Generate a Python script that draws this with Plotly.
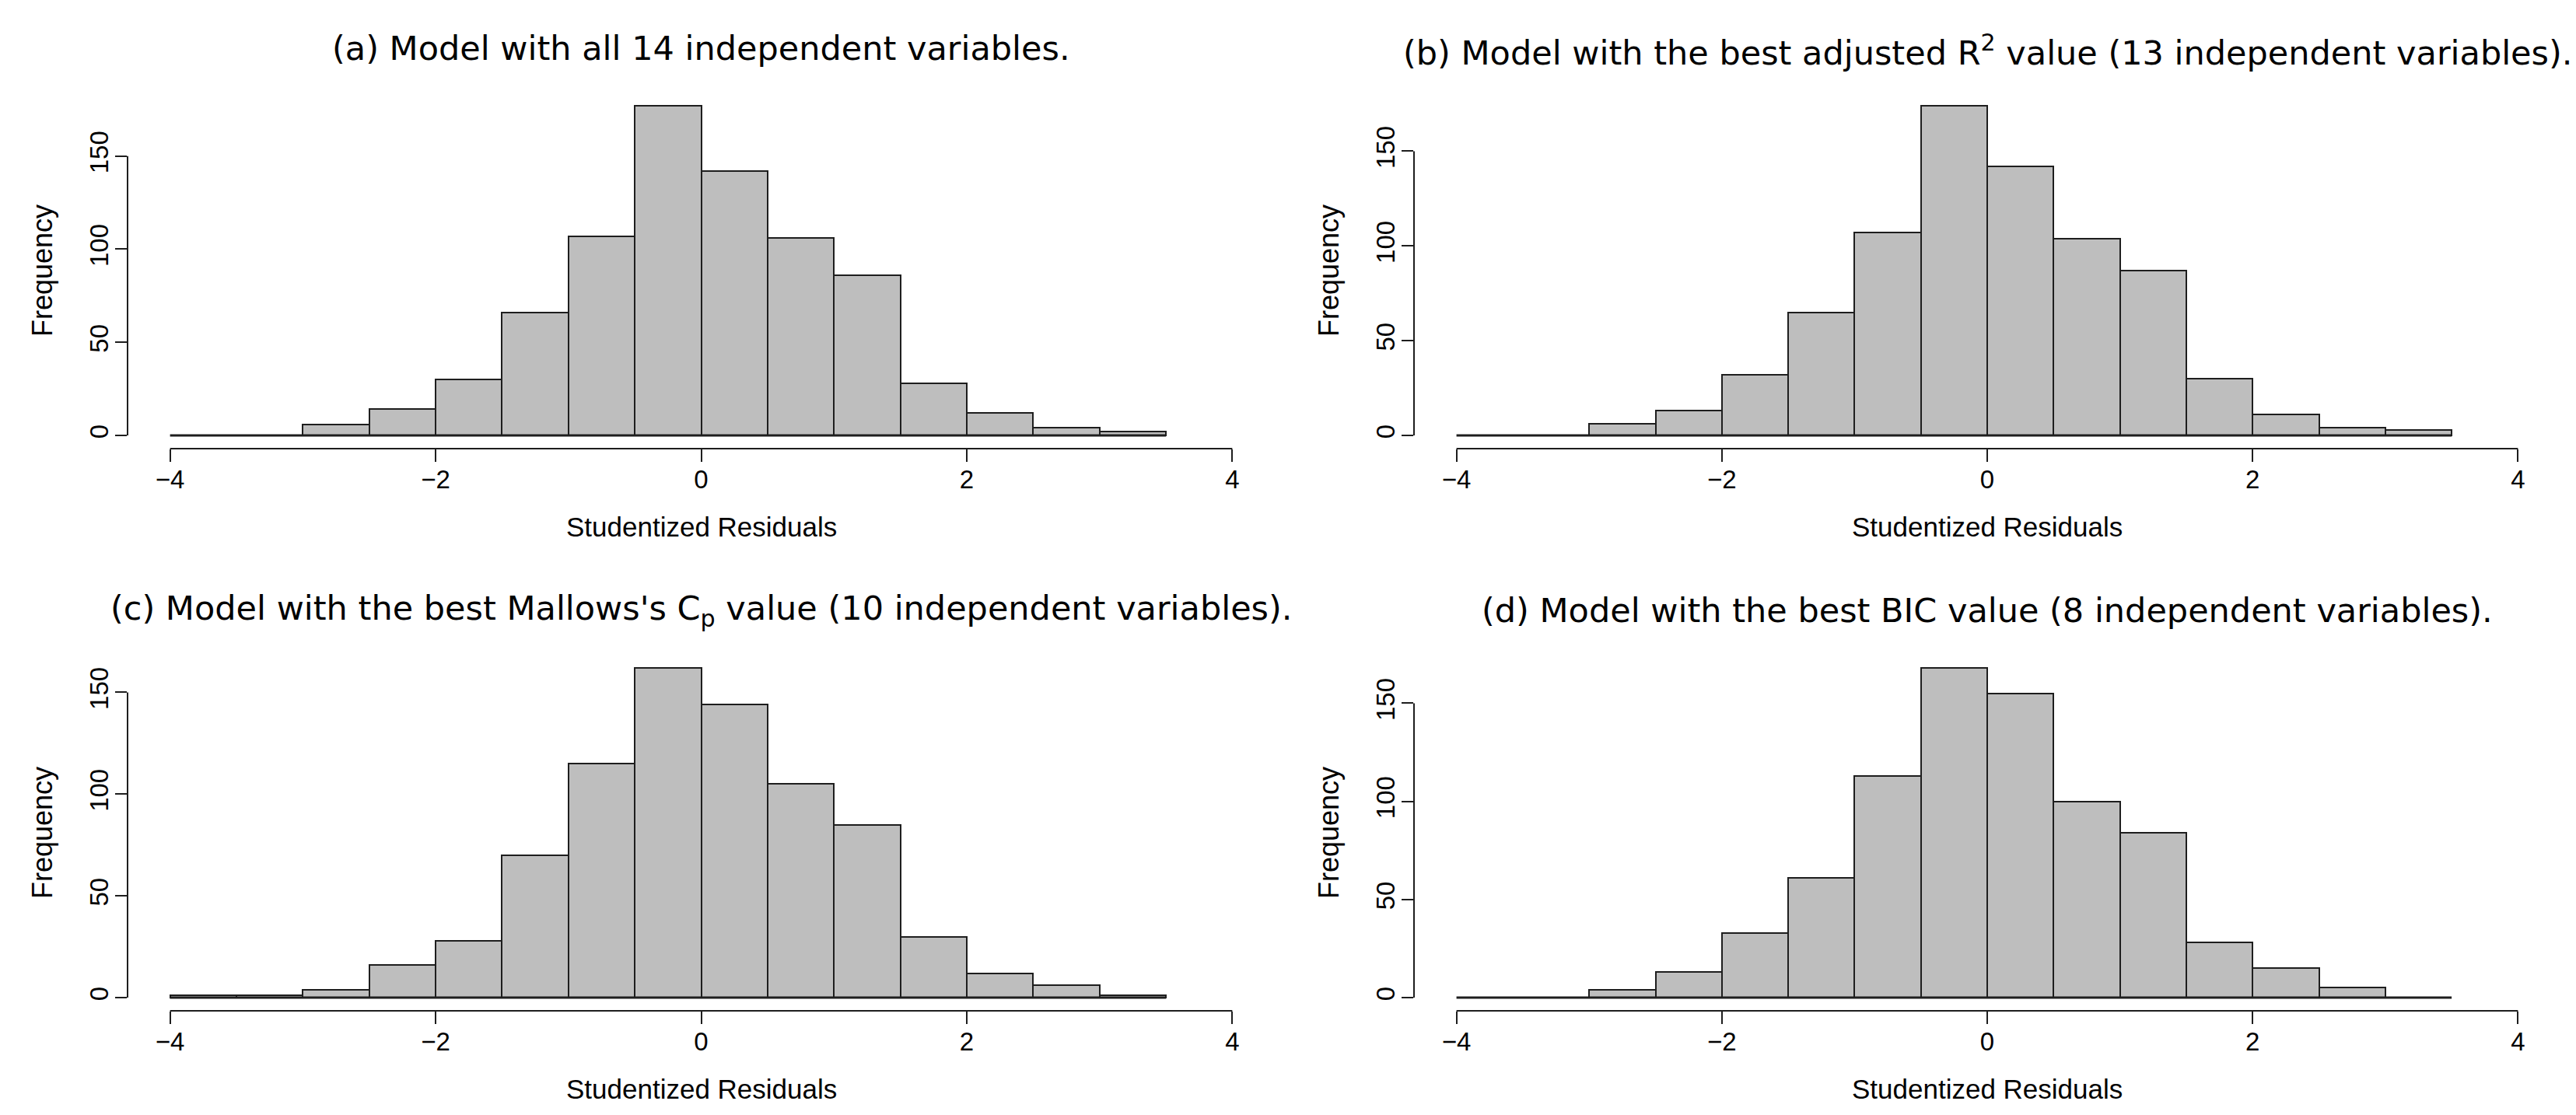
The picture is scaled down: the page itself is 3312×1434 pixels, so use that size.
import plotly.graph_objects as go

# ---------------- data ----------------
BREAKS = [-4.0, -3.5, -3.0, -2.5, -2.0, -1.5, -1.0, -0.5, 0.0, 0.5, 1.0, 1.5, 2.0, 2.5, 3.0, 3.5]
COUNTS_A = [0, 0, 6, 14, 30, 66, 107, 177, 142, 106, 86, 28, 12, 4, 2]
COUNTS_B = [0, 0, 6, 13, 32, 65, 107, 174, 142, 104, 87, 30, 11, 4, 3]
COUNTS_C = [1, 1, 4, 16, 28, 70, 115, 162, 144, 105, 85, 30, 12, 6, 1]
COUNTS_D = [0, 0, 4, 13, 33, 61, 113, 168, 155, 100, 84, 28, 15, 5, 0]

TITLES = [
    "(a) Model with all 14 independent variables.",
    "(b) Model with the best adjusted R<sup>2</sup> value (13 independent variables).",
    "(c) Model with the best Mallows's C<sub>p</sub> value (10 independent variables).",
    "(d) Model with the best BIC value (8 independent variables).",
]
X_TICKS = [-4, -2, 0, 2, 4]
X_TICK_LABELS = ["\u22124", "\u22122", "0", "2", "4"]
Y_TICKS = [0, 50, 100, 150]
Y_TICK_LABELS = ["0", "50", "100", "150"]
X_LABEL = "Studentized Residuals"
Y_LABEL = "Frequency"

# ---------------- layout constants ----------------
W, H = 3312, 1434
FILL = "#BEBEBE"
INK = "#1e1e1e"
TITLE_FONT = dict(family="DejaVu Sans", size=43, color="black")
LABEL_FONT = dict(family="Liberation Sans, Arial", size=35, color="black")
TICK_FONT = dict(family="Liberation Sans, Arial", size=33, color="black")

# plot regions in pixels (left, right, top, bottom)
PANELS = [
    (156, 1631, 111, 569),
    (1810, 3284, 111, 569),
    (156, 1631, 834, 1292),
    (1810, 3284, 834, 1292),
]
# title placement: (anchor, y px)
TITLE_POS = [("top", 27), ("bottom", 87), ("top", 747), ("top", 750)]


def px_x(p):
    return p / W


def px_y(p):
    return 1 - p / H


fig = go.Figure()
shapes = []
annotations = []
counts_all = [COUNTS_A, COUNTS_B, COUNTS_C, COUNTS_D]
centers = [(BREAKS[i] + BREAKS[i + 1]) / 2 for i in range(len(BREAKS) - 1)]
widths = [BREAKS[i + 1] - BREAKS[i] for i in range(len(BREAKS) - 1)]
xpad = 0.04 * (X_TICKS[-1] - X_TICKS[0])

for k, counts in enumerate(counts_all):
    n = "" if k == 0 else str(k + 1)
    xa, ya = "x" + n, "y" + n
    left, right, top, bottom = PANELS[k]

    fig.add_trace(go.Bar(
        x=centers, y=counts, width=widths,
        marker=dict(color=FILL, line=dict(color=INK, width=2)),
        xaxis=xa, yaxis=ya, showlegend=False, hoverinfo="x+y",
    ))
    fig.add_trace(go.Scatter(
        x=[BREAKS[0], BREAKS[-1]], y=[0, 0], mode="lines",
        line=dict(color=INK, width=3), xaxis=xa, yaxis=ya,
        showlegend=False, hoverinfo="skip",
    ))

    ymax = max(counts)
    fig.layout["xaxis" + n] = dict(
        domain=[px_x(left), px_x(right)], anchor=ya,
        range=[X_TICKS[0] - xpad, X_TICKS[-1] + xpad],
        tickmode="array", tickvals=X_TICKS, ticktext=X_TICK_LABELS,
        ticks="outside", ticklen=16, tickwidth=2, tickcolor=INK,
        showline=False, showgrid=False, zeroline=False,
        tickfont=TICK_FONT, ticklabelstandoff=-6, fixedrange=True,
    )
    fig.layout["yaxis" + n] = dict(
        domain=[px_y(bottom), px_y(top)], anchor=xa,
        range=[-0.04 * ymax, 1.04 * ymax],
        tickmode="array", tickvals=Y_TICKS, ticktext=Y_TICK_LABELS,
        ticks="outside", ticklen=15, tickwidth=2, tickcolor=INK,
        tickangle=-90,
        showline=False, showgrid=False, zeroline=False,
        tickfont=TICK_FONT, ticklabelstandoff=-4, fixedrange=True,
    )

    # R-style axis lines spanning first..last tick
    shapes.append(dict(type="line", xref=xa, yref=ya + " domain",
                       x0=X_TICKS[0], x1=X_TICKS[-1], y0=0, y1=0,
                       line=dict(color=INK, width=2)))
    shapes.append(dict(type="line", xref=xa + " domain", yref=ya,
                       x0=0, x1=0, y0=Y_TICKS[0], y1=Y_TICKS[-1],
                       line=dict(color=INK, width=2)))

    # main title
    anch, ty = TITLE_POS[k]
    annotations.append(dict(text=TITLES[k], xref=xa + " domain", x=0.5,
                            yref="paper", y=px_y(ty), xanchor="center",
                            yanchor=anch, showarrow=False, font=TITLE_FONT))
    # x label
    annotations.append(dict(text=X_LABEL, xref=xa + " domain", x=0.5,
                            yref="paper", y=px_y(bottom + 79), xanchor="center",
                            yanchor="top", showarrow=False, font=LABEL_FONT))
    # y label
    annotations.append(dict(text=Y_LABEL, xref="paper", x=px_x(left - 110),
                            yref=ya + " domain", y=0.5, xanchor="center",
                            yanchor="middle", textangle=-90, showarrow=False,
                            font=dict(family="Liberation Sans, Arial", size=36, color="black")))

fig.update_layout(
    width=W, height=H, margin=dict(l=0, r=0, t=0, b=0),
    paper_bgcolor="white", plot_bgcolor="white",
    bargap=0, shapes=shapes, annotations=annotations,
    showlegend=False,
)

fig.write_html("out.html")
